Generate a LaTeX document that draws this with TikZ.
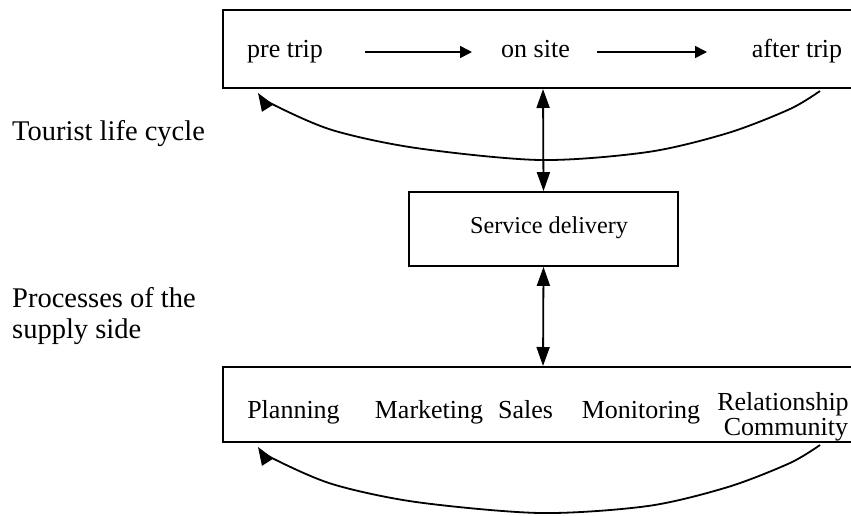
\documentclass[tikz,border=0pt]{standalone}
\usepackage{fontspec}
\setmainfont{Liberation Serif}
\usetikzlibrary{arrows.meta}
\begin{document}
\begin{tikzpicture}[x=1pt,y=-1pt,
  box/.style={draw,line width=1.8pt},
  lbl/.style={font=\fontsize{28.5}{31}\selectfont,inner sep=0pt,anchor=base west},
  txt/.style={font=\fontsize{26}{28}\selectfont,inner sep=0pt,anchor=base},
  arr/.style={line width=1.6pt,-{Triangle[length=12pt,width=12pt]}},
  darr/.style={line width=1.8pt,{Triangle[length=19pt,width=13pt]}-{Triangle[length=19pt,width=13pt]}},
  curve/.style={line width=1.8pt,-{Triangle[length=18pt,width=13pt]}}]
\useasboundingbox (0,0) rectangle (851,515);
% boxes
\draw[box] (223,10) rectangle (880,88);
\draw[box] (223,367) rectangle (880,442);
\node[box,minimum width=269pt,minimum height=74pt,inner sep=0pt] (sd) at (543.5,229) {};
\node[txt,font=\fontsize{24.2}{26}\selectfont] (sdt) at (549,233) {Service delivery};
% top texts
\node[txt] (pre) at (285,57) {pre trip};
\node[txt] (on) at (535.5,57) {on site};
\node[txt] (after) at (797,57) {after trip};
\coordinate (a1s) at (365,52); \coordinate (a1e) at (472,52);
\coordinate (a2s) at (597,52); \coordinate (a2e) at (707,52);
\draw[arr] (a1s) -- (a1e);
\draw[arr] (a2s) -- (a2e);
% bottom texts
\node[txt] (plan) at (293.5,418) {Planning};
\node[txt] (mark) at (429,418) {Marketing};
\node[txt] (sales) at (525.5,418) {Sales};
\node[txt] (mon) at (641,418) {Monitoring};
\node[txt] (rel) at (783,410) {Relationship};
\node[txt] (com) at (786,435) {Community};
% left labels
\node[lbl] (tlc) at (12,140) {Tourist life cycle};
\node[lbl] (pos1) at (12,307) {Processes of the};
\node[lbl] (pos2) at (12,338) {supply side};
% vertical double arrows
\coordinate (topb) at (543,89);
\coordinate (botb) at (543,366);
\draw[darr] (topb) -- (sd.north);
\draw[darr] (sd.south) -- (botb);
% curved arrows
\coordinate (c1s) at (820,91); \coordinate (c1e) at (258,93);
\draw[curve] plot[smooth,tension=0.5] coordinates {(c1s) (790,109) (728,133) (648,152) (540,160) (416,148) (332,130) (272,104) (c1e)};
\coordinate (c2s) at (820,445); \coordinate (c2e) at (258,447);
\draw[curve] plot[smooth,tension=0.5] coordinates {(c2s) (790,463) (728,487) (648,506) (540,513) (416,502) (332,484) (272,458) (c2e)};
\end{tikzpicture}
\end{document}
